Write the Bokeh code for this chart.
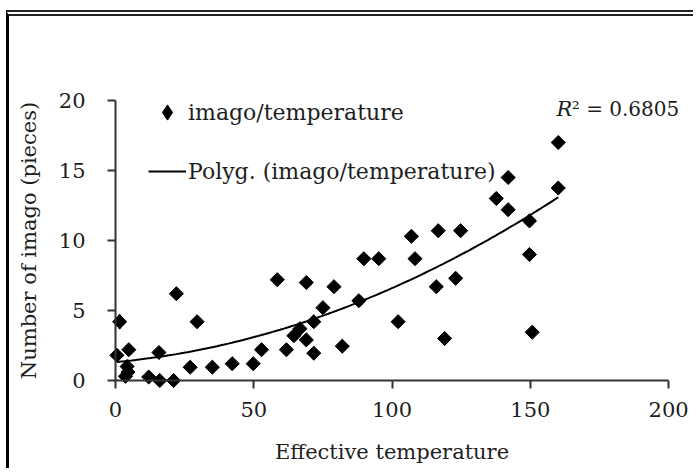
import numpy as np
from bokeh.plotting import figure
from bokeh.models import Range1d, FixedTicker, Label, Legend, LegendItem
from bokeh.embed import file_html
from bokeh.resources import INLINE

# Effective temperature (x) and number of imago counted (y)
temperature = [1.5, 0.5, 4.8, 4.2, 3.6, 4.5, 12.0, 15.7, 16.0, 21.0,
               22.0, 27.0, 29.5, 35.0, 42.2, 49.8, 52.8, 58.5, 61.8, 64.5,
               66.7, 69.0, 69.0, 71.7, 71.7, 75.0, 79.0, 82.0, 88.0, 89.8,
               95.2, 102.2, 107.0, 108.3, 116.0, 116.7, 119.0, 123.0, 124.8, 137.7,
               142.0, 142.0, 149.7, 149.7, 150.7, 160.1, 160.1]
imago = [4.2, 1.8, 2.2, 1.0, 0.3, 0.6, 0.25, 2.0, 0.0, 0.0,
         6.2, 0.95, 4.2, 0.95, 1.2, 1.2, 2.2, 7.2, 2.2, 3.2,
         3.7, 2.9, 7.0, 4.2, 1.95, 5.2, 6.7, 2.45, 5.7, 8.7,
         8.7, 4.2, 10.3, 8.7, 6.7, 10.7, 3.0, 7.3, 10.7, 13.0,
         14.5, 12.2, 11.4, 9.0, 3.45, 17.0, 13.75]

x_ticks = [0, 50, 100, 150, 200]
y_ticks = [0, 5, 10, 15, 20]
r2_text = "² = 0.6805"

SERIF = "DejaVu Serif"
TEXT = "#1e1e1e"
AXIS = "#333333"

# second-order polynomial trend through the points
coef = np.polyfit(temperature, imago, 2)
trend_x = np.linspace(min(temperature), max(temperature), 120)
trend_y = np.polyval(coef, trend_x)

# the frame fills the whole canvas; axes sit at x=0 / y=0 inside it,
# so markers on the axes and texts outside the 0-200 / 0-20 box are not cut
p = figure(width=687, height=458,
           x_range=Range1d(-38.34, 210.1), y_range=Range1d(-6.714, 26.0),
           output_backend="svg", toolbar_location=None,
           min_border_left=0, min_border_right=0,
           min_border_top=0, min_border_bottom=0)
p.styles = {"margin-left": "6px", "margin-top": "10px",
            "border-left": "3px solid #000000",
            "border-top": "6px double #222222"}
p.outline_line_color = None
p.grid.visible = False

pts = p.scatter(temperature, imago, marker="square", size=10, angle=np.pi / 4,
                fill_color="black", line_color="black")
fit = p.line(trend_x, trend_y, line_color="black", line_width=2)
# diamond key for the legend, drawn over the first point
key = p.scatter(temperature[:1], imago[:1], marker="diamond", size=15,
                fill_color="black", line_color="black")

for ax, ticks, bnd in ((p.xaxis[0], x_ticks, (0, 200)), (p.yaxis[0], y_ticks, (0, 20))):
    ax.ticker = FixedTicker(ticks=ticks)
    ax.bounds = bnd
    ax.fixed_location = 0
    ax.minor_tick_line_color = None
    ax.major_tick_in = 0
    ax.major_tick_out = 8
    ax.axis_line_width = 2
    ax.axis_line_color = AXIS
    ax.major_tick_line_width = 2
    ax.major_tick_line_color = AXIS
    ax.major_label_text_font = SERIF
    ax.major_label_text_font_size = "21px"
    ax.major_label_text_color = TEXT
    ax.axis_label_text_font = SERIF
    ax.axis_label_text_font_size = "21px"
    ax.axis_label_text_font_style = "normal"
    ax.axis_label_text_color = TEXT

p.xaxis.axis_label = "Effective temperature"
p.xaxis.major_label_standoff = 13
p.xaxis.axis_label_standoff = 20
p.yaxis.axis_label = "Number of imago (pieces)"
p.yaxis.major_label_standoff = 22
p.yaxis.axis_label_standoff = 15

legend = Legend(items=[LegendItem(label="imago/temperature", renderers=[key]),
                       LegendItem(label="Polyg. (imago/temperature)", renderers=[fit])],
                location=(139, 283), orientation="vertical",
                glyph_width=38, glyph_height=40, label_height=40,
                spacing=19, padding=0, margin=0, label_standoff=2,
                border_line_color=None, background_fill_alpha=0,
                label_text_font=SERIF, label_text_font_size="22px",
                label_text_color=TEXT)
p.add_layout(legend, "center")

p.add_layout(Label(x=159.5, y=19.4, text="R", text_font=SERIF,
                   text_font_style="italic", text_font_size="21px",
                   text_color=TEXT, text_baseline="middle"))
p.add_layout(Label(x=165.0, y=19.4, text=r2_text, text_font=SERIF,
                   text_font_size="20px", text_color=TEXT, text_baseline="middle"))

open("out.html", "w").write(file_html(p, INLINE))
